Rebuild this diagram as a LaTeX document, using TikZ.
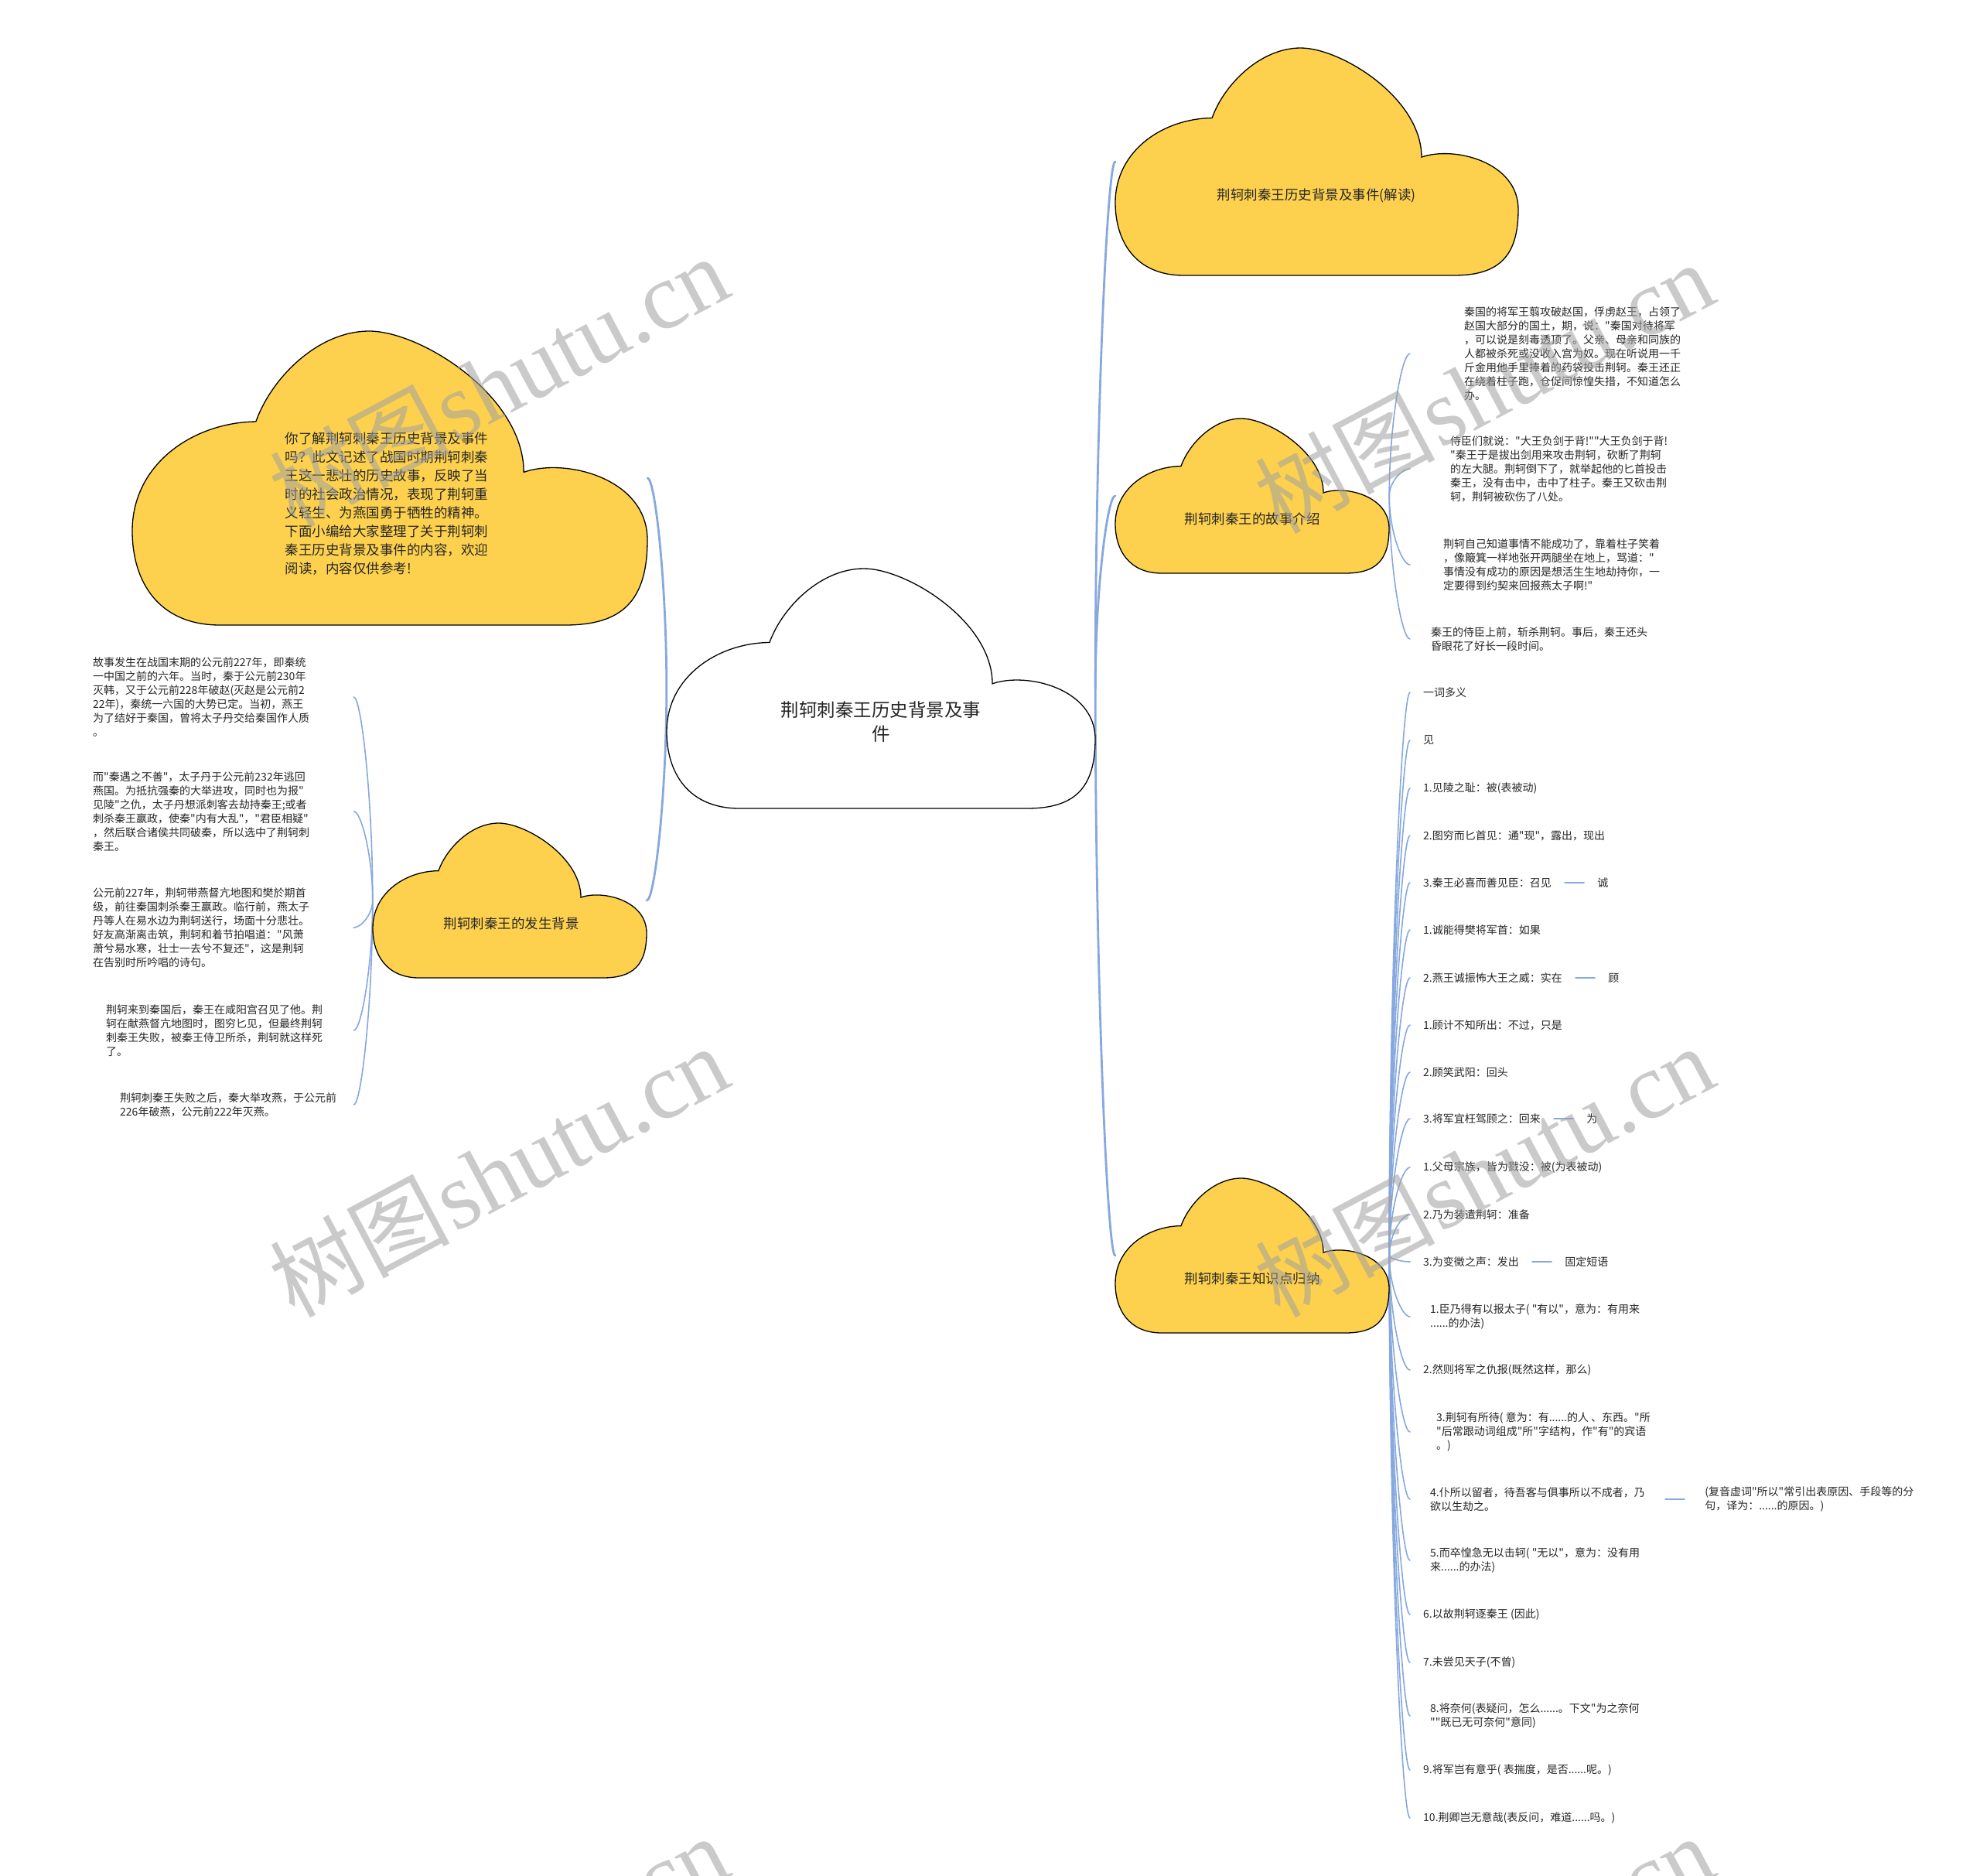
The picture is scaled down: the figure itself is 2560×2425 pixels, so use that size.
\documentclass[tikz,border=0pt]{standalone}
\usepackage{fontspec}
\newfontfamily\cjk{Noto Sans CJK SC}
\newfontfamily\wmserif{Liberation Serif}
\usetikzlibrary{calc}
\definecolor{cloudfill}{HTML}{FDD14E}
\definecolor{linkblue}{HTML}{86A8DE}
\definecolor{txt}{HTML}{262626}
\definecolor{wmgray}{HTML}{A0A0A0}
\newcommand\fA{\cjk\fontsize{14}{18}\selectfont}
\newcommand\fB{\cjk\fontsize{17.5}{24}\selectfont}
\newcommand\fC{\cjk\fontsize{23.5}{31}\selectfont}
\newcommand\drawcloud[5]{\begin{scope}[shift={(#1,#2)},xscale=#3,yscale=#4]
\path[#5] (0.24,0.308) .. controls (0.27,0.16) and (0.36,0) .. (0.46,0)
 .. controls (0.56,0) and (0.76,0.22) .. (0.76,0.48)
 .. controls (0.84,0.43) and (1,0.5) .. (1,0.71)
 .. controls (1,0.92) and (0.95,1) .. (0.84,1) -- (0.17,1)
 .. controls (0.05,1) and (0,0.85) .. (0,0.68)
 .. controls (0,0.45) and (0.12,0.31) .. (0.24,0.308) -- cycle;
\end{scope}}
\newcommand\linkto[3]{\draw[#1] (#2) .. controls ($(#2)!0.5!(#2|-#3)$) and ($(#2|-#3)!0.6!(#3)$) .. (#3);}
\tikzset{
 bbox/.style={inner sep=0pt, draw=none},
 yellowcloud/.style={draw=black, line width=1.3pt, fill=cloudfill},
 whitecloud/.style={draw=black, line width=1.3pt, fill=white},
 mainlink/.style={draw=linkblue, line width=2.8pt, line cap=round},
 leaflink/.style={draw=linkblue, line width=1.6pt, line cap=round},
 cloudtext/.style={font=\fB, text=txt, align=center, inner sep=0pt},
 leaf/.style={font=\fA, text=txt, anchor=west, inner ysep=0pt, inner xsep=17pt, align=left},
 block/.style={font=\fA, text=txt, anchor=west, inner sep=0pt, align=left},
 wm/.style={text=wmgray, opacity=0.55, rotate=28, inner sep=0pt}
}
\begin{document}
\begin{tikzpicture}[x=1pt,y=-1pt]
\fill[white] (0,0) rectangle (2560,2425);
\useasboundingbox (0,0) rectangle (2560,2425);

% cloud frames
\node[bbox, minimum width=666pt, minimum height=380pt] (ul) at (504,618) {};
\node[bbox, minimum width=554pt, minimum height=310pt] (c0) at (1139,890) {};
\node[bbox, minimum width=521pt, minimum height=294pt] (c1) at (1702.5,209) {};
\node[bbox, minimum width=354pt, minimum height=200pt] (c2) at (1619,641) {};
\node[bbox, minimum width=354pt, minimum height=200pt] (c3) at (1619,1623) {};
\node[bbox, minimum width=354pt, minimum height=200pt] (bg) at (659,1164) {};

% text leaves: story
\node[leaf, inner xsep=70pt] (t1) at (1823,457) {秦国的将军王翦攻破赵国，俘虏赵王，占领了\\赵国大部分的国土，期，说："秦国对待将军\\，可以说是刻毒透顶了。父亲、母亲和同族的\\人都被杀死或没收入宫为奴。现在听说用一千\\斤金用他手里捧着的药袋投击荆轲。秦王还正\\在绕着柱子跑，仓促间惊惶失措，不知道怎么\\办。};
\node[leaf, inner xsep=52pt] (t2) at (1823,606) {侍臣们就说："大王负剑于背!""大王负剑于背!\\"秦王于是拔出剑用来攻击荆轲，砍断了荆轲\\的左大腿。荆轲倒下了，就举起他的匕首投击\\秦王，没有击中，击中了柱子。秦王又砍击荆\\轲，荆轲被砍伤了八处。};
\node[leaf, inner xsep=43pt] (t3) at (1823,730) {荆轲自己知道事情不能成功了，靠着柱子笑着\\，像簸箕一样地张开两腿坐在地上，骂道："\\事情没有成功的原因是想活生生地劫持你，一\\定要得到约契来回报燕太子啊!"};
\node[leaf, inner xsep=27pt] (t4) at (1823,826) {秦王的侍臣上前，斩杀荆轲。事后，秦王还头\\昏眼花了好长一段时间。};

% background leaves
\node[block, text width=337pt] (a1) at (120,901) {故事发生在战国末期的公元前227年，即秦统\\一中国之前的六年。当时，秦于公元前230年\\灭韩，又于公元前228年破赵(灭赵是公元前2\\22年)，秦统一六国的大势已定。当初，燕王\\为了结好于秦国，曾将太子丹交给秦国作人质\\。};
\node[block, text width=337pt] (a2) at (120,1049) {而"秦遇之不善"，太子丹于公元前232年逃回\\燕国。为抵抗强秦的大举进攻，同时也为报"\\见陵"之仇，太子丹想派刺客去劫持秦王;或者\\刺杀秦王嬴政，使秦"内有大乱"，"君臣相疑"\\，然后联合诸侯共同破秦，所以选中了荆轲刺\\秦王。};
\node[block, text width=337pt] (a3) at (120,1199) {公元前227年，荆轲带燕督亢地图和樊於期首\\级，前往秦国刺杀秦王嬴政。临行前，燕太子\\丹等人在易水边为荆轲送行，场面十分悲壮。\\好友高渐离击筑，荆轲和着节拍唱道："风萧\\萧兮易水寒，壮士一去兮不复还"，这是荆轲\\在告别时所吟唱的诗句。};
\node[block, text width=320pt] (a4) at (137,1332) {荆轲来到秦国后，秦王在咸阳宫召见了他。荆\\轲在献燕督亢地图时，图穷匕见，但最终荆轲\\刺秦王失败，被秦王侍卫所杀，荆轲就这样死\\了。};
\node[block, text width=302pt] (a5) at (155,1428) {荆轲刺秦王失败之后，秦大举攻燕，于公元前\\226年破燕，公元前222年灭燕。};

% knowledge leaves
\node[leaf] (k1) at (1823,895) {一词多义};
\node[leaf] (k2) at (1823,957) {见};
\node[leaf] (k3) at (1823,1019) {1.见陵之耻：被(表被动)};
\node[leaf] (k4) at (1823,1080) {2.图穷而匕首见：通"现"，露出，现出};
\node[leaf] (k5) at (1823,1141) {3.秦王必喜而善见臣：召见};
\node[leaf] (k5a) at ([xshift=25pt]k5.east) {诚};
\node[leaf] (k6) at (1823,1202) {1.诚能得樊将军首：如果};
\node[leaf] (k7) at (1823,1264) {2.燕王诚振怖大王之威：实在};
\node[leaf] (k7a) at ([xshift=25pt]k7.east) {顾};
\node[leaf] (k8) at (1823,1325) {1.顾计不知所出：不过，只是};
\node[leaf] (k9) at (1823,1386) {2.顾笑武阳：回头};
\node[leaf] (k10) at (1823,1446) {3.将军宜枉驾顾之：回来};
\node[leaf] (k10a) at ([xshift=25pt]k10.east) {为};
\node[leaf] (k11) at (1823,1509) {1.父母宗族，皆为戮没：被(为表被动)};
\node[leaf] (k12) at (1823,1570) {2.乃为装遣荆轲：准备};
\node[leaf] (k13) at (1823,1631) {3.为变徵之声：发出};
\node[leaf] (k13a) at ([xshift=25pt]k13.east) {固定短语};
\node[leaf, inner xsep=26pt] (k14) at (1823,1702) {1.臣乃得有以报太子( "有以"，意为：有用来\\......的办法)};
\node[leaf] (k15) at (1823,1771) {2.然则将军之仇报(既然这样，那么)};
\node[leaf, inner xsep=34pt] (k16) at (1823,1851) {3.荆轲有所待( 意为：有......的人 、东西。"所\\"后常跟动词组成"所"字结构，作"有"的宾语\\。)};
\node[leaf, inner xsep=26pt] (k17) at (1823,1938) {4.仆所以留者，待吾客与俱事所以不成者，乃\\欲以生劫之。};
\node[leaf, inner xsep=26pt] (k17a) at ([xshift=25pt]k17.east) {(复音虚词"所以"常引出表原因、手段等的分\\句，译为：......的原因。)};
\node[leaf, inner xsep=26pt] (k18) at (1823,2017) {5.而卒惶急无以击轲( "无以"，意为：没有用\\来......的办法)};
\node[leaf] (k19) at (1823,2087) {6.以故荆轲逐秦王 (因此)};
\node[leaf] (k20) at (1823,2149) {7.未尝见天子(不曾)};
\node[leaf, inner xsep=26pt] (k21) at (1823,2218) {8.将奈何(表疑问，怎么......。下文"为之奈何\\""既已无可奈何"意同)};
\node[leaf] (k22) at (1823,2288) {9.将军岂有意乎( 表揣度，是否......呢。)};
\node[leaf] (k23) at (1823,2350) {10.荆卿岂无意哉(表反问，难道......吗。)};

% connectors
\linkto{mainlink}{c0.east}{c1.west}
\linkto{mainlink}{c0.east}{c2.west}
\linkto{mainlink}{c0.east}{c3.west}
\linkto{mainlink}{c0.west}{ul.east}
\linkto{mainlink}{c0.west}{bg.east}
\foreach \t in {t1,t2,t3,t4} {\linkto{leaflink}{c2.east}{\t.west}}
\foreach \t in {a1,a2,a3,a4,a5} {\linkto{leaflink}{bg.west}{\t.east}}
\foreach \t in {k1,k2,k3,k4,k5,k6,k7,k8,k9,k10,k11,k12,k13,k14,k15,k16,k17,k18,k19,k20,k21,k22,k23} {\linkto{leaflink}{c3.east}{\t.west}}
\draw[leaflink] (k5.east) -- (k5a.west);
\draw[leaflink] (k7.east) -- (k7a.west);
\draw[leaflink] (k10.east) -- (k10a.west);
\draw[leaflink] (k13.east) -- (k13a.west);
\draw[leaflink] (k17.east) -- (k17a.west);

% clouds
\drawcloud{171}{428}{666}{380}{yellowcloud}
\drawcloud{862}{735}{554}{310}{whitecloud}
\drawcloud{1442}{62}{521}{294}{yellowcloud}
\drawcloud{1442}{541}{354}{200}{yellowcloud}
\drawcloud{1442}{1523}{354}{200}{yellowcloud}
\drawcloud{482}{1064}{354}{200}{yellowcloud}

% cloud texts
\node[font=\fB, text=txt, align=left, inner sep=0pt] (ult) at (500,651) {你了解荆轲刺秦王历史背景及事件\\吗？此文记述了战国时期荆轲刺秦\\王这一悲壮的历史故事，反映了当\\时的社会政治情况，表现了荆轲重\\义轻生、为燕国勇于牺牲的精神。\\下面小编给大家整理了关于荆轲刺\\秦王历史背景及事件的内容，欢迎\\阅读，内容仅供参考!};
\node[font=\fC, text=txt, align=center, inner sep=0pt] (c0t) at (1139,933) {荆轲刺秦王历史背景及事\\件};
\node[cloudtext] (c1t) at (1702,253) {荆轲刺秦王历史背景及事件(解读)};
\node[cloudtext] (c2t) at (1619,671) {荆轲刺秦王的故事介绍};
\node[cloudtext] (c3t) at (1619,1653) {荆轲刺秦王知识点归纳};
\node[cloudtext] (bgt) at (661,1194) {荆轲刺秦王的发生背景};

% watermarks
\foreach \p [count=\i] in {{(645,493)},{(645,1514)},{(1919,501)},{(1919,1514)},{(645,2535)},{(1919,2535)}} {
 \node[wm] (wm\i) at \p {{\cjk\fontsize{116}{116}\selectfont 树图} {\wmserif\fontsize{122}{122}\selectfont shutu.cn}};
}
\end{tikzpicture}
\end{document}
